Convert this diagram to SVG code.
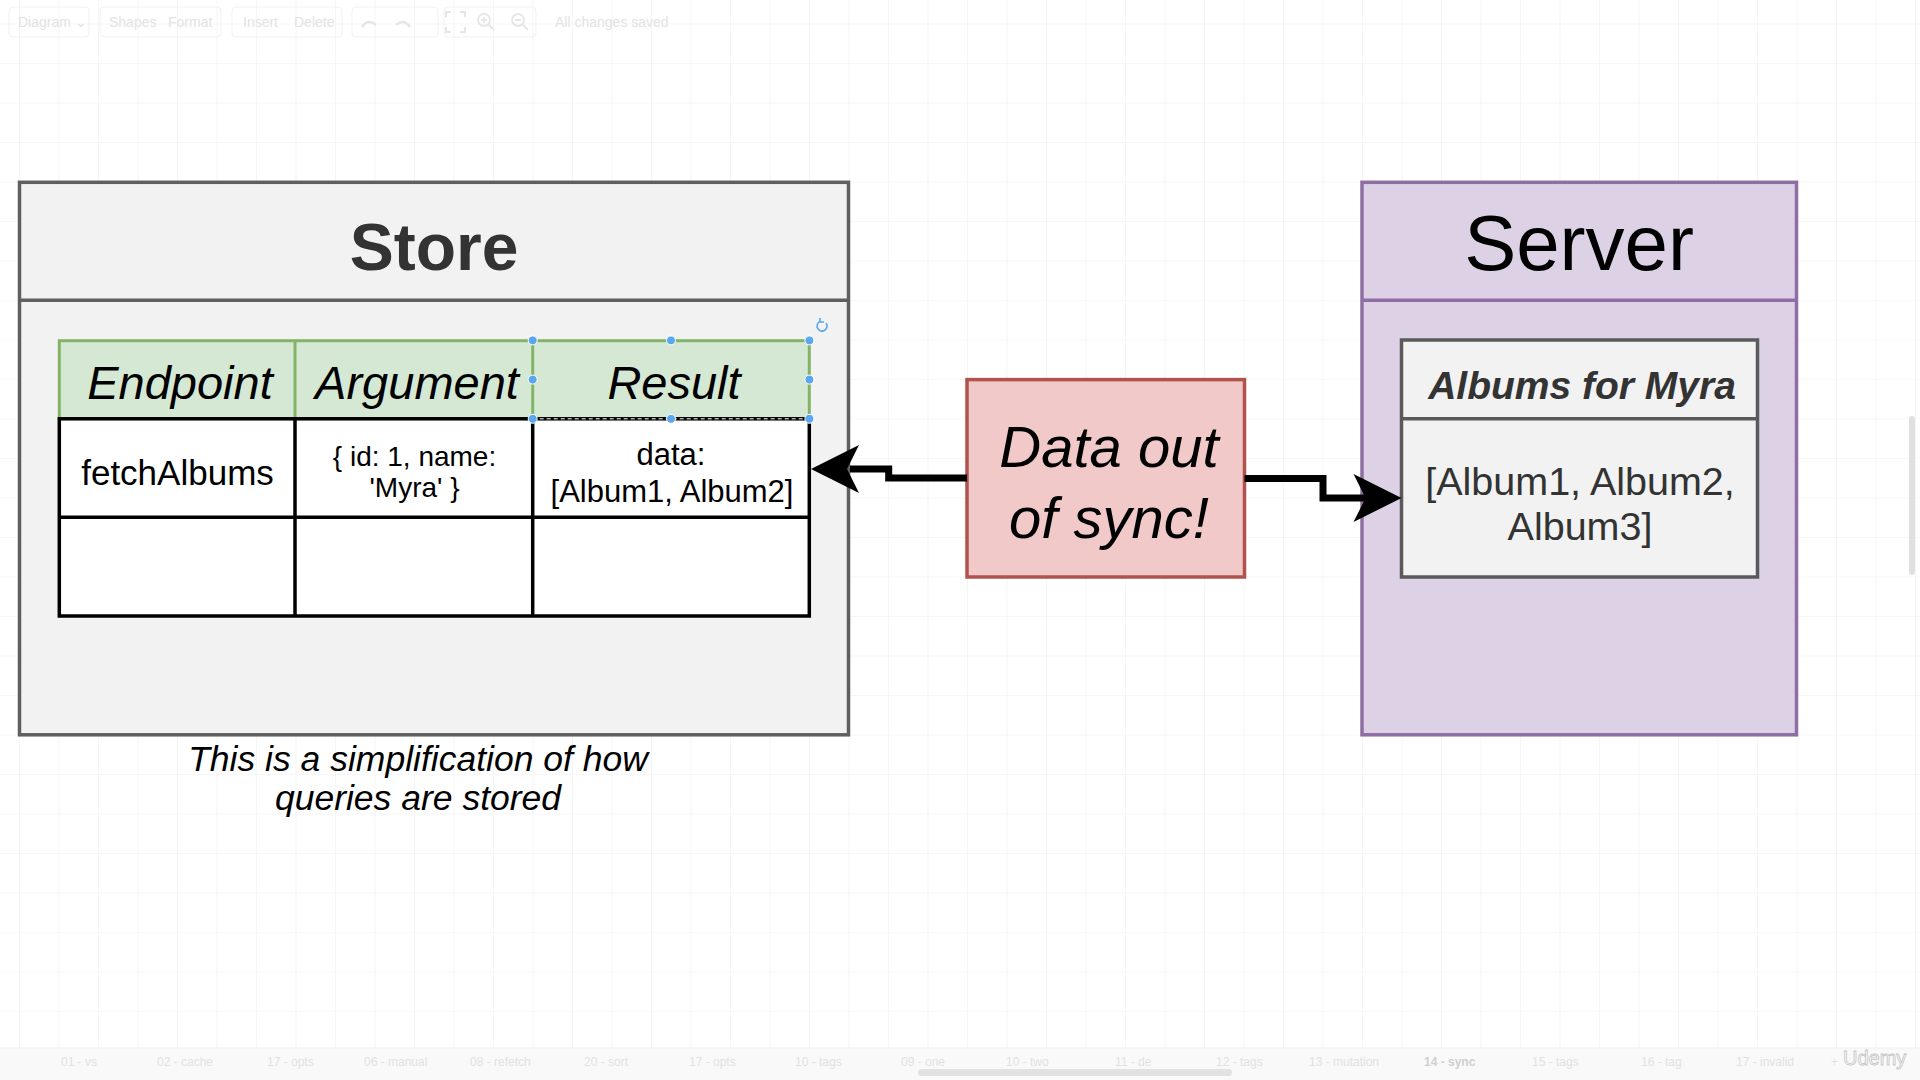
<svg xmlns="http://www.w3.org/2000/svg" width="1920" height="1080" viewBox="0 0 1920 1080">
<style>
text{font-family:"Liberation Sans",Arial,Helvetica,sans-serif}
.ui{fill:#e3e3e3;font-size:14px}
.tab{fill:#e2e2e2;font-size:12px}
.uibox{fill:none;stroke:#f1f1f1;stroke-width:1}
.store{fill:#f2f2f2;stroke:#5f5f5f;stroke-width:3.5}
.server{fill:#ddd1e5;stroke:#8f6fa3;stroke-width:3.5}
.inner{fill:#f2f2f2;stroke:#5a5a5a;stroke-width:3.5}
.sync{fill:#f0c9c8;stroke:#b0524e;stroke-width:3.5}
.hdr{fill:#d5e8d4;stroke:#82b366;stroke-width:3}
.cell{fill:#ffffff;stroke:#000;stroke-width:3.5}
.blk{stroke:#000;stroke-width:3.5}
.grn{stroke:#82b366;stroke-width:3}
.th{font-size:47px;font-style:italic;fill:#000;text-anchor:middle}
.td{fill:#000;text-anchor:middle}
.conn{fill:none;stroke:#000;stroke-width:7;stroke-linejoin:miter}
.head{fill:#000;stroke:none}
.handle{fill:#5aa7f0;stroke:#ffffff;stroke-width:1}
</style>
<defs>
<pattern id="grid" patternUnits="userSpaceOnUse" x="19" y="23.5" width="39.5" height="39.5">
<path d="M0 0H39.5M0 0V39.5" fill="none" stroke="#efefef" stroke-width="1.2"/>
</pattern>
<path id="arrowhead" d="M0,0 L-48,-24 L-36,0 L-48,24 Z"/>
</defs>
<rect x="0" y="0" width="1920" height="1080" fill="#ffffff"/>
<rect x="0" y="0" width="1920" height="1048" fill="url(#grid)"/>

<!-- editor chrome -->
<g id="toolbar">
<rect class="uibox" x="9" y="7" width="80" height="30" rx="4"/>
<rect class="uibox" x="100" y="7" width="121" height="30" rx="4"/>
<rect class="uibox" x="232" y="7" width="110" height="30" rx="4"/>
<rect class="uibox" x="352" y="7" width="86" height="30" rx="4"/>
<rect class="uibox" x="444" y="7" width="92" height="30" rx="4"/>
<text class="ui" x="18" y="27">Diagram ⌄</text>
<text class="ui" x="109" y="27">Shapes</text>
<text class="ui" x="168" y="27">Format</text>
<text class="ui" x="243" y="27">Insert</text>
<text class="ui" x="294" y="27">Delete</text>
<text class="ui" x="555" y="27">All changes saved</text>
<path d="M362 27q6-9 14-2M410 27q-6-9-14-2" fill="none" stroke="#e6e6e6" stroke-width="2.5"/>
<path d="M446 17v-5h5M460 12h5v5M465 27v5h-5M451 32h-5v-5" fill="none" stroke="#e6e6e6" stroke-width="2"/>
<circle cx="484" cy="20" r="6" fill="none" stroke="#e6e6e6" stroke-width="1.8"/>
<path d="M488 24l6 6M481 20h6M484 17v6" stroke="#e6e6e6" stroke-width="1.8"/>
<circle cx="518" cy="20" r="6" fill="none" stroke="#e6e6e6" stroke-width="1.8"/>
<path d="M522 24l6 6M515 20h6" stroke="#e6e6e6" stroke-width="1.8"/>
</g>

<g id="tabbar">
<rect x="0" y="1048" width="1920" height="32" fill="#f9f9f9"/>
<line x1="0" y1="1048" x2="1920" y2="1048" stroke="#efefef" stroke-width="1"/>
<text class="tab" x="61" y="1066">01 - vs</text>
<text class="tab" x="157" y="1066">02 - cache</text>
<text class="tab" x="267" y="1066">17 - opts</text>
<text class="tab" x="364" y="1066">06 - manual</text>
<text class="tab" x="470" y="1066">08 - refetch</text>
<text class="tab" x="584" y="1066">20 - sort</text>
<text class="tab" x="689" y="1066">17 - opts</text>
<text class="tab" x="795" y="1066">10 - tags</text>
<text class="tab" x="901" y="1066">09 - one</text>
<text class="tab" x="1006" y="1066">10 - two</text>
<text class="tab" x="1115" y="1066">11 - de</text>
<text class="tab" x="1216" y="1066">12 - tags</text>
<text class="tab" x="1309" y="1066">13 - mutation</text>
<text class="tab" x="1424" y="1066" style="font-weight:bold;fill:#cfcfcf">14 - sync</text>
<text class="tab" x="1532" y="1066">15 - tags</text>
<text class="tab" x="1641" y="1066">16 - tag</text>
<text class="tab" x="1736" y="1066">17 - invalid</text>
<text class="tab" x="1831" y="1066">+</text>
<text x="1843" y="1065" style="font-size:20px;fill:#ffffff;stroke:#c4c4c4;stroke-width:0.8">Udemy</text>
<rect x="918" y="1069" width="314" height="7" rx="3.5" fill="#e2e2e2"/>
<rect x="1909" y="416" width="6" height="159" rx="3" fill="#e0e0e0"/>
</g>

<!-- Store container -->
<g id="store">
<rect class="store" x="19.5" y="182.3" width="829" height="552.5"/>
<line x1="19.5" y1="300.3" x2="848.5" y2="300.3" stroke="#5f5f5f" stroke-width="3.5"/>
<text x="434" y="270" text-anchor="middle" style="font-size:66px;font-weight:bold;fill:#333333">Store</text>
</g>

<g id="queries-table">
<rect class="hdr" x="59.3" y="340.7" width="750" height="78.1"/>
<line class="grn" x1="295" y1="340.7" x2="295" y2="418.8"/>
<line class="grn" x1="532.7" y1="340.7" x2="532.7" y2="418.8"/>
<rect class="cell" x="59.3" y="418.8" width="750" height="197.2"/>
<line class="blk" x1="59.3" y1="517.2" x2="809.3" y2="517.2"/>
<line class="blk" x1="295" y1="418.8" x2="295" y2="616"/>
<line class="blk" x1="532.7" y1="418.8" x2="532.7" y2="616"/>
<text class="th" x="180" y="399">Endpoint</text>
<text class="th" x="417" y="399">Argument</text>
<text class="th" x="674" y="399">Result</text>
<text class="td" x="177.5" y="485" style="font-size:35px">fetchAlbums</text>
<text class="td" x="414.5" y="466" style="font-size:28px">{ id: 1, name:</text>
<text class="td" x="414.5" y="497" style="font-size:28px">'Myra' }</text>
<text class="td" x="671" y="465" style="font-size:31px">data:</text>
<text class="td" x="672" y="502" style="font-size:31px">[Album1, Album2]</text>
<line x1="532.7" y1="418.8" x2="809.3" y2="418.8" stroke="#ffffff" stroke-width="1" stroke-dasharray="4 3"/>
<circle class="handle" cx="532.7" cy="340.4" r="4.5"/>
<circle class="handle" cx="671" cy="340.4" r="4.5"/>
<circle class="handle" cx="809.4" cy="340.4" r="4.5"/>
<circle class="handle" cx="532.7" cy="379.6" r="4.5"/>
<circle class="handle" cx="809.4" cy="379.6" r="4.5"/>
<circle class="handle" cx="532.7" cy="418.8" r="4.5"/>
<circle class="handle" cx="671" cy="418.8" r="4.5"/>
<circle class="handle" cx="809.4" cy="418.8" r="4.5"/>
<path d="M826 323a5 5 0 1 1-6-1.5M820 318v4h4" fill="none" stroke="#5aa7f0" stroke-width="1.6"/>
</g>

<g id="caption">
<text x="418" y="771" text-anchor="middle" style="font-size:35.5px;font-style:italic;fill:#000">This is a simplification of how</text>
<text x="418" y="810" text-anchor="middle" style="font-size:35.5px;font-style:italic;fill:#000">queries are stored</text>
</g>

<!-- Data out of sync -->
<g id="data-out-of-sync">
<rect class="sync" x="967" y="379.6" width="277.5" height="197.4"/>
<text x="1109" y="467" text-anchor="middle" style="font-size:58px;font-style:italic;fill:#000">Data out</text>
<text x="1109" y="538" text-anchor="middle" style="font-size:58px;font-style:italic;fill:#000">of sync!</text>
</g>

<!-- Server container -->
<g id="server">
<rect class="server" x="1362" y="182.3" width="434.5" height="552.5"/>
<line x1="1362" y1="300.3" x2="1796.5" y2="300.3" stroke="#8f6fa3" stroke-width="3.5"/>
<text x="1579" y="270" text-anchor="middle" style="font-size:78px;fill:#000">Server</text>
</g>

<g id="albums-for-myra">
<rect class="inner" x="1401.5" y="340" width="356" height="237"/>
<line x1="1401.5" y1="418.7" x2="1757.5" y2="418.7" stroke="#5a5a5a" stroke-width="3.5"/>
<text x="1582" y="399" text-anchor="middle" style="font-size:39px;font-weight:bold;font-style:italic;fill:#333333">Albums for Myra</text>
<text x="1580" y="495" text-anchor="middle" style="font-size:39.5px;fill:#333333">[Album1, Album2,</text>
<text x="1580" y="540" text-anchor="middle" style="font-size:39.5px;fill:#333333">Album3]</text>
</g>

<!-- connectors -->
<g id="connectors">
<path class="conn" d="M967 478H888.7V469H850"/>
<use href="#arrowhead" class="head" transform="translate(811 469) rotate(180)"/>
<path class="conn" d="M1244.5 478.5H1323V498H1370"/>
<use href="#arrowhead" class="head" transform="translate(1401.5 498)"/>
</g>
</svg>
